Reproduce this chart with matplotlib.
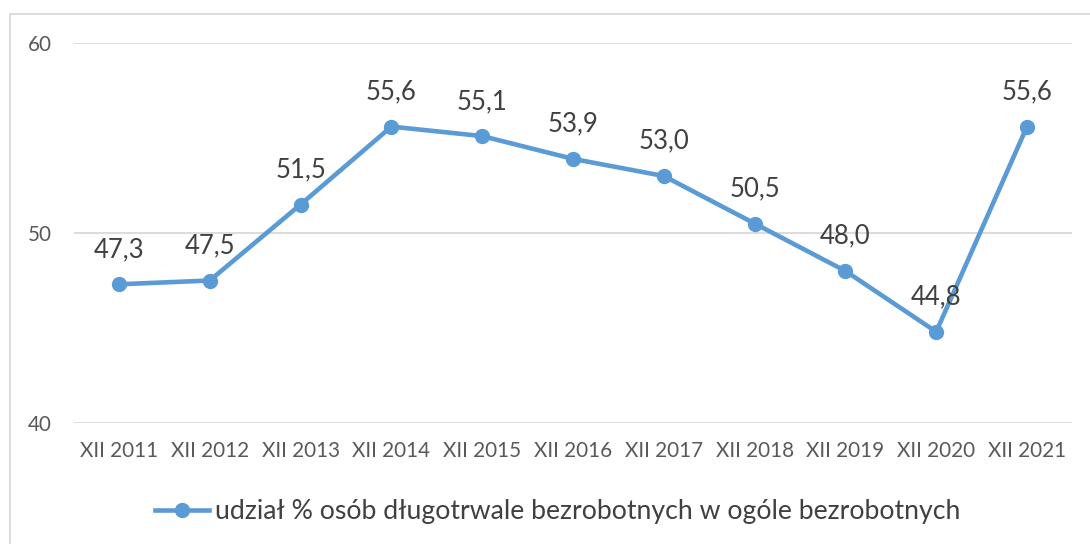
import matplotlib.pyplot as plt
from matplotlib.patches import Rectangle

# Data
years = ["XII 2011", "XII 2012", "XII 2013", "XII 2014", "XII 2015", "XII 2016",
         "XII 2017", "XII 2018", "XII 2019", "XII 2020", "XII 2021"]
share = [47.3, 47.5, 51.5, 55.6, 55.1, 53.9, 53.0, 50.5, 48.0, 44.8, 55.6]
label = "udział % osób długotrwale bezrobotnych w ogóle bezrobotnych"

blue = "#5B9BD5"
plt.rcParams['font.family'] = ['Lato', 'DejaVu Sans']

W, H = 1090, 544
fig = plt.figure(figsize=(W / 100, H / 100), dpi=100)
ax = fig.add_axes([73.6 / W, 1 - 423 / H, (1072.4 - 73.6) / W, (423 - 43) / H])

x = range(len(years))
ax.plot(x, share, '-o', color=blue, lw=3.3, ms=10, label=label)

# data labels above points
for i, v in zip(x, share):
    ax.annotate(f"{v:.1f}".replace(".", ","), (i, v), xytext=(0, 25),
                textcoords="offset points", ha="center", va="center",
                fontsize=18.5, color="#404040")

ax.set_xlim(-0.5, len(years) - 0.5)
ax.set_ylim(40, 60)
ax.set_yticks([40, 50, 60])
ax.set_xticks(list(x))
ax.set_xticklabels(years)
ax.tick_params(length=0, labelsize=14.9, labelcolor="#595959")
ax.tick_params(axis="y", pad=16)
ax.tick_params(axis="x", pad=13)
ax.grid(axis="y", color="#D9D9D9", lw=1.3)
ax.set_axisbelow(True)
for s in ax.spines.values():
    s.set_visible(False)

fig.legend(loc="center", bbox_to_anchor=(558 / W, 1 - 512 / H), frameon=False,
           fontsize=19.2, labelcolor="#404040", handlelength=2.0, handletextpad=0.25)

# chart frame (cropped at right/bottom)
fig.patches.append(Rectangle((10 / W, -0.1), 1.2, 1 - 14 / H + 0.1,
                             transform=fig.transFigure, fill=False,
                             edgecolor="#D9D9D9", lw=1.3))

fig.savefig("out.png", dpi=100)
